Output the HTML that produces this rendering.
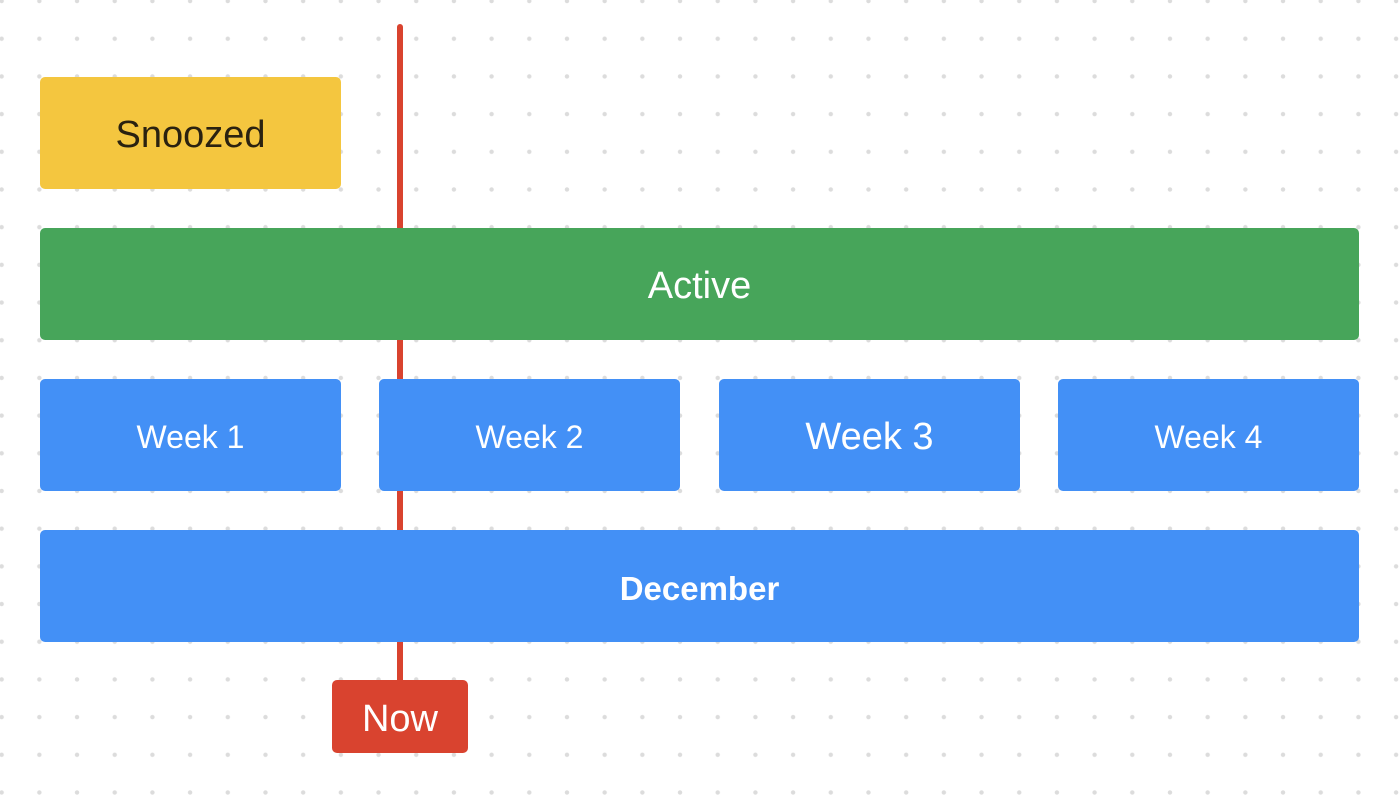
<!DOCTYPE html>
<html><head><meta charset="utf-8"><style>
html,body{margin:0;padding:0}
body{width:1399px;height:797px;position:relative;overflow:hidden;background:#fff;
background-image:radial-gradient(circle,#dcdcdc 2px,transparent 2.4px);
background-size:37.7px 37.7px;background-position:-17.2px -17.8px;
font-family:"Liberation Sans",sans-serif}
.b{position:absolute;display:flex;align-items:center;justify-content:center;border-radius:5px;color:#fff;box-sizing:border-box;padding-top:5px}
.line{position:absolute;left:397px;top:24px;width:6px;height:660px;background:#d9432f;border-radius:3px}
.blue{background:#4390f6;font-size:32px}
</style></head><body>
<div class="line"></div>
<div class="b" style="left:40px;top:77px;width:301px;height:112px;background:#f4c63f;color:#2a2210;font-size:38px">Snoozed</div>
<div class="b" style="left:40px;top:228px;width:1319px;height:112px;background:#47a55a;font-size:38px">Active</div>
<div class="b blue" style="left:40px;top:379px;width:301px;height:112px">Week 1</div>
<div class="b blue" style="left:379px;top:379px;width:301px;height:112px">Week 2</div>
<div class="b blue" style="left:719px;top:379px;width:301px;height:112px;font-size:38px">Week 3</div>
<div class="b blue" style="left:1058px;top:379px;width:301px;height:112px">Week 4</div>
<div class="b blue" style="left:40px;top:530px;width:1319px;height:112px;font-weight:bold;font-size:33px">December</div>
<div class="b" style="left:332px;top:680px;width:136px;height:73px;background:#d9432f;font-size:38px">Now</div>
</body></html>
